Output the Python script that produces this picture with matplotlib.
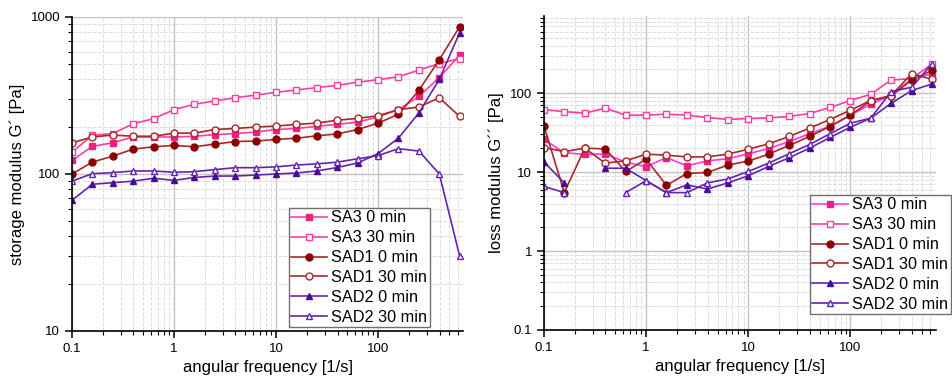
import numpy as np
import matplotlib
matplotlib.use('Agg')
import matplotlib.pyplot as plt
from matplotlib.ticker import LogLocator, NullFormatter

plt.rcParams['font.family'] = ['Liberation Sans', 'DejaVu Sans']

freq = [0.1, 0.158, 0.251, 0.398, 0.631, 1, 1.58, 2.51, 3.98, 6.31,
        10, 15.8, 25.1, 39.8, 63.1, 100, 158, 251, 398, 628]
nan = np.nan

# storage modulus G' [Pa]
g1_sa3_0 = [122, 150, 158, 172, 172, 172, 174, 178, 181, 185,
            192, 195, 201, 207, 214, 231, 257, 312, 411, 570]
g1_sa3_30 = [138, 176, 181, 209, 225, 257, 278, 292, 306, 318,
             331, 343, 355, 367, 384, 399, 416, 459, 505, 543]
g1_sad1_0 = [100, 119, 130, 144, 149, 152, 149, 155, 161, 162,
             166, 169, 175, 180, 192, 211, 240, 341, 535, 864]
g1_sad1_30 = [158, 172, 177, 174, 174, 182, 182, 192, 195, 199,
              202, 207, 211, 220, 226, 235, 257, 267, 306, 233]
g1_sad2_0 = [68, 86, 88, 90, 94, 91, 95, 97, 97, 98.5,
             100, 101.5, 104.5, 110, 117.5, 135, 169, 245, 401, 791]
g1_sad2_30 = [90, 100.5, 102, 104.5, 104.5, 102.5, 103.5, 106.6, 109.7, 109.7,
              111, 114, 116, 119, 125, 131, 145, 140, 100, 30.2]

# loss modulus G'' [Pa]
g2_sa3_0 = [26, 17.6, 16.8, 17.0, 13.4, 11.7, 15.3, 12.0, 13.9, 14.8,
            17.1, 19.9, 24.4, 30.6, 38.2, 52.7, 72.6, 94, 152, 176]
g2_sa3_30 = [62, 58.5, 55.8, 64.6, 52.7, 52.7, 54.2, 52.7, 49.2, 46.4,
             47.8, 48.7, 50.7, 55.3, 65.9, 80.8, 97, 147, 153, 235]
g2_sad1_0 = [38.5, 5.5, 20.1, 19.7, 10.2, 14.6, 6.8, 9.6, 9.9, 12.3,
             13.8, 16.9, 21.8, 28.3, 37.8, 52.7, 80, 92.5, 147, 194]
g2_sad1_30 = [20.5, 18.2, 20.1, 13.0, 13.9, 16.9, 16.4, 15.6, 15.6, 16.9,
              19.5, 22.8, 28.3, 36.1, 46.4, 60.9, 80.8, 93.4, 177, 150]
g2_sad2_0 = [13.5, 7.3, nan, 11.2, 11.2, 7.8, 5.5, 6.9, 6.1, 7.3,
             9.0, 11.8, 15.2, 20.1, 27.5, 37.1, 48.3, 74.7, 108, 131]
g2_sad2_30 = [6.6, 5.5, nan, nan, 5.5, 7.8, 5.5, 5.5, 7.3, 8.2,
              10.2, 13.0, 17.1, 22.4, 30.6, 41.7, 48.3, 105, 119, 235]

labels = ['SA3 0 min', 'SA3 30 min', 'SAD1 0 min', 'SAD1 30 min',
          'SAD2 0 min', 'SAD2 30 min']

pink = '#ff3d9e'
magenta = '#ff33ff'
pink_mk = '#f0207f'
dred_line = '#a82828'
dred_mk = '#8b0000'
purp_line = '#6324b0'
purp_mk = '#4a0b98'

fig = plt.figure(figsize=(9.53, 3.85), dpi=100)
ax1 = fig.add_axes([0.0756, 0.1403, 0.4103, 0.8156])
ax2 = fig.add_axes([0.5708, 0.1429, 0.4113, 0.8164])


def style_axis(ax):
    ax.set_xscale('log')
    ax.set_yscale('log')
    for s in ['top', 'right']:
        ax.spines[s].set_visible(False)
    ax.spines['left'].set_linewidth(1.2)
    ax.spines['bottom'].set_linewidth(1.2)
    ax.xaxis.set_minor_locator(LogLocator(base=10, subs=np.arange(2, 10), numticks=20))
    ax.yaxis.set_minor_locator(LogLocator(base=10, subs=np.arange(2, 10), numticks=20))
    ax.xaxis.set_minor_formatter(NullFormatter())
    ax.yaxis.set_minor_formatter(NullFormatter())
    ax.tick_params(which='major', direction='out', length=5, width=1.1, labelsize=9.5)
    ax.tick_params(which='minor', direction='out', length=3, width=0.8)
    ax.grid(True, which='major', color='#c4c4c4', linestyle='-', linewidth=1.0)
    ax.grid(True, which='minor', color='#dcdcdc', linestyle='--', linewidth=0.7)
    ax.set_axisbelow(True)
    ax.set_xticks([0.1, 1, 10, 100])
    ax.set_xticklabels(['0.1', '1', '10', '100'])
    ax.set_xlabel('angular frequency [1/s]', fontsize=12)


def plot_set(ax, data, sa3_line):
    lw = 1.2
    ms = 4.5
    ax.plot(freq, data[0], '-s', color=sa3_line, mfc=pink_mk, mec=pink_mk,
            lw=lw, ms=ms, label=labels[0])
    ax.plot(freq, data[1], '-s', color=pink, mfc='white', mec=pink,
            lw=lw, ms=ms, mew=1.0, label=labels[1])
    ax.plot(freq, data[2], '-o', color=dred_line, mfc=dred_mk, mec=dred_mk,
            lw=lw, ms=ms + 0.5, label=labels[2])
    ax.plot(freq, data[3], '-o', color=dred_line, mfc='white', mec=dred_line,
            lw=lw, ms=ms + 0.5, mew=1.0, label=labels[3])
    ax.plot(freq, data[4], '-^', color=purp_line, mfc=purp_mk, mec=purp_mk,
            lw=lw, ms=ms + 0.5, label=labels[4])
    ax.plot(freq, data[5], '-^', color=purp_line, mfc='white', mec=purp_line,
            lw=lw, ms=ms + 0.5, mew=1.0, label=labels[5])


style_axis(ax1)
plot_set(ax1, [g1_sa3_0, g1_sa3_30, g1_sad1_0, g1_sad1_30, g1_sad2_0, g1_sad2_30], pink)
ax1.set_xlim(0.1, 680)
ax1.set_ylim(10, 1000)
ax1.set_yticks([10, 100, 1000])
ax1.set_yticklabels(['10', '100', '1000'])
ax1.set_ylabel('storage modulus G\u00b4 [Pa]', fontsize=12)

style_axis(ax2)
plot_set(ax2, [g2_sa3_0, g2_sa3_30, g2_sad1_0, g2_sad1_30, g2_sad2_0, g2_sad2_30], magenta)
ax2.set_xlim(0.1, 687)
ax2.set_ylim(0.1, 960)
ax2.set_yticks([0.1, 1, 10, 100])
ax2.set_yticklabels(['0.1', '1', '10', '100'])
ax2.set_ylabel('loss modulus G\u00b4\u00b4 [Pa]', fontsize=12)

for ax, anchor in [(ax1, (0.3033, 0.4597)), (ax2, (0.850, 0.4935))]:
    leg = ax.legend(loc='upper left', bbox_to_anchor=anchor, bbox_transform=fig.transFigure,
                    borderaxespad=0, fontsize=11.7, frameon=True, fancybox=False,
                    edgecolor='#707070', framealpha=1, handlelength=2.2,
                    handletextpad=0.25, labelspacing=0.3, borderpad=0.15)
    leg.get_frame().set_linewidth(1.0)

fig.savefig('out.png', dpi=100)
